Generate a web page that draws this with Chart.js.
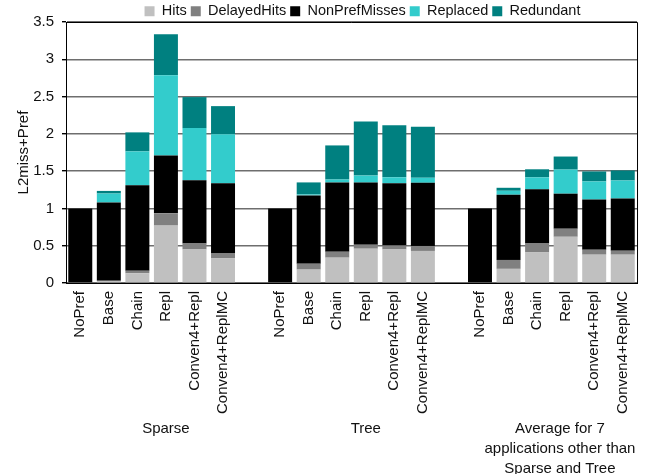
<!DOCTYPE html>
<html>
<head>
<meta charset="utf-8">
<script src="https://cdn.jsdelivr.net/npm/chart.js@4.4.0/dist/chart.umd.min.js"></script>
<style>
  html, body { margin: 0; padding: 0; background: #fff; }
  #wrap { width: 649px; height: 474px; }
</style>
</head>
<body>
<div id="wrap"><canvas id="c" width="649" height="474"></canvas></div>
<script>
// Prefetching schemes, repeated for each workload group
const schemes = ['NoPref', 'Base', 'Chain', 'Repl', 'Conven4+Repl', 'Conven4+ReplMC'];
const groups = ['Sparse', 'Tree', ['Average for 7', 'applications other than', 'Sparse and Tree']];

// Normalized L2 misses + prefetches, broken down by category
// (order: Sparse x6, Tree x6, Average x6)
const hits = [0, 0.03, 0.13, 0.77, 0.45, 0.33,
              0, 0.18, 0.34, 0.46, 0.45, 0.43,
              0, 0.19, 0.41, 0.62, 0.38, 0.38];
const delayedHits = [0, 0, 0.035, 0.165, 0.08, 0.067,
                     0, 0.08, 0.08, 0.054, 0.054, 0.067,
                     0, 0.12, 0.12, 0.108, 0.067, 0.054];
const nonPrefMisses = [1, 1.05, 1.145, 0.775, 0.847, 0.94,
                       1, 0.914, 0.928, 0.833, 0.834, 0.847,
                       1, 0.874, 0.726, 0.47, 0.673, 0.699];
const replaced = [0, 0.12, 0.455, 1.075, 0.7, 0.658,
                  0, 0.014, 0.04, 0.094, 0.08, 0.067,
                  0, 0.053, 0.161, 0.323, 0.242, 0.242];
const redundant = [0, 0.035, 0.255, 0.55, 0.416, 0.377,
                   0, 0.161, 0.457, 0.726, 0.699, 0.685,
                   0, 0.04, 0.108, 0.175, 0.134, 0.134];

const yTicks = [0, 0.5, 1, 1.5, 2, 2.5, 3, 3.5];

// Insert an empty slot between groups
function withGaps(values) {
  const out = [];
  values.forEach((v, i) => {
    if (i > 0 && i % schemes.length === 0) out.push(null);
    out.push(v);
  });
  return out;
}
const labels = withGaps(groups.flatMap(() => schemes)).map(v => v === null ? '' : v);

const FONT = "'Liberation Sans', Arial, sans-serif";
const TEXT = '#111';

const series = [
  { label: 'Hits', data: hits, color: '#c0c0c0' },
  { label: 'DelayedHits', data: delayedHits, color: '#808080' },
  { label: 'NonPrefMisses', data: nonPrefMisses, color: '#000000' },
  { label: 'Replaced', data: replaced, color: '#33cccc' },
  { label: 'Redundant', data: redundant, color: '#008080' }
];

// Frame on the top and right of the plot
const framePlugin = {
  id: 'frame',
  beforeDatasetsDraw(chart) {
    const { ctx, chartArea: a } = chart;
    ctx.save();
    ctx.strokeStyle = '#000';
    ctx.lineWidth = 1;
    ctx.beginPath();
    ctx.moveTo(a.left, a.top + 0.5);
    ctx.lineTo(a.right + 0.5, a.top + 0.5);
    ctx.lineTo(a.right + 0.5, a.bottom);
    ctx.stroke();
    ctx.restore();
  }
};

// Group captions under the scheme labels
const groupPlugin = {
  id: 'groupCaptions',
  afterDraw(chart, args, opts) {
    const { ctx } = chart;
    const x = chart.scales.x;
    ctx.save();
    ctx.fillStyle = TEXT;
    ctx.font = '15px ' + FONT;
    ctx.textAlign = 'center';
    ctx.textBaseline = 'middle';
    groups.forEach((g, i) => {
      const lines = Array.isArray(g) ? g : [g];
      const px = x.getPixelForValue(opts.at[i]);
      lines.forEach((t, j) => ctx.fillText(t, px, x.bottom + opts.offset + j * opts.lineHeight));
    });
    ctx.restore();
  }
};

// Nudge the legend to the right
const legendShift = {
  id: 'legendShift',
  afterLayout(chart, args, opts) {
    const l = chart.legend;
    if (!l) return;
    l.left += opts.dx;
    l.right += opts.dx;
  }
};

new Chart(document.getElementById('c'), {
  type: 'bar',
  data: {
    labels: labels,
    datasets: series.map(s => ({
      label: s.label,
      data: withGaps(s.data),
      backgroundColor: s.color,
      borderWidth: 0,
      categoryPercentage: 1,
      barPercentage: 0.84
    }))
  },
  options: {
    responsive: false,
    animation: false,
    layout: { padding: { left: 0, right: 10, top: 0, bottom: 52 } },
    plugins: {
      legend: {
        position: 'top',
        maxHeight: 22,
        labels: {
          boxWidth: 10,
          boxHeight: 10,
          padding: 4,
          color: TEXT,
          font: { family: FONT, size: 14.5 }
        }
      },
      tooltip: { enabled: false },
      groupCaptions: { at: [3, 10, 16.8], offset: 7, lineHeight: 20 },
      legendShift: { dx: 43 }
    },
    scales: {
      x: {
        stacked: true,
        grid: { display: false, drawTicks: false },
        border: { display: true, color: '#000', width: 1 },
        ticks: {
          autoSkip: false,
          minRotation: 90,
          maxRotation: 90,
          padding: 8,
          color: TEXT,
          font: { family: FONT, size: 15 }
        }
      },
      y: {
        stacked: true,
        min: 0,
        max: 3.5,
        afterBuildTicks(scale) { scale.ticks = yTicks.map(v => ({ value: v })); },
        afterFit(scale) { scale.width = 66; },
        grid: { color: '#6e6e6e', lineWidth: 1.4, tickColor: '#000', tickLength: 4 },
        border: { display: true, color: '#000', width: 1 },
        ticks: {
          padding: 8,
          color: TEXT,
          font: { family: FONT, size: 15 },
          callback: (v) => String(v)
        },
        title: {
          display: true,
          text: 'L2miss+Pref',
          color: TEXT,
          font: { family: FONT, size: 15 },
          padding: { top: 15, bottom: 0 }
        }
      }
    }
  },
  plugins: [framePlugin, groupPlugin, legendShift]
});
</script>
</body>
</html>
